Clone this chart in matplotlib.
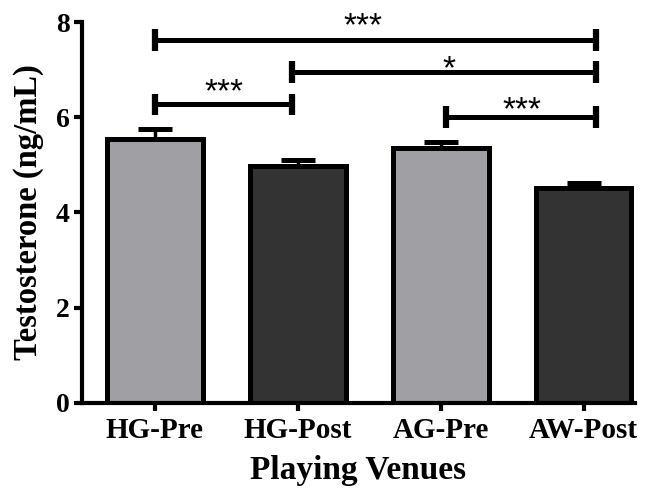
import matplotlib
matplotlib.use("Agg")
import matplotlib.pyplot as plt

categories = ["HG-Pre", "HG-Post", "AG-Pre", "AW-Post"]
means = [5.54, 4.97, 5.35, 4.51]
errors = [0.21, 0.13, 0.13, 0.12]
bar_colors = ["#A09FA4", "#333333", "#A09FA4", "#333333"]
yticks = [0, 2, 4, 6, 8]

# significance brackets
sig_x0 = [0.0, 0.96, 0.0, 2.04]
sig_x1 = [3.09, 3.09, 0.96, 3.09]
sig_y = [7.63, 6.96, 6.27, 6.01]
sig_labels = ["***", "*", "***", "***"]
sig_text_x = [1.458, 2.056, 0.486, 2.57]
sig_text_off = [0.10, -0.13, 0.06, -0.05]

fig = plt.figure(figsize=(6.5, 4.93), dpi=100)
ax = fig.add_axes([0.126, 0.183, 0.851, 0.772])

x = list(range(len(categories)))
ax.bar(x, means, width=0.67, color=bar_colors, edgecolor="black",
       linewidth=3.6, zorder=2)
ax.errorbar(x, means, yerr=[[0]*len(errors), errors], fmt="none",
            ecolor="black", elinewidth=2.5, capsize=12, capthick=3.6, zorder=1)

serif = "Liberation Serif"
ax.set_xlim(-0.51, 3.36)
ax.set_ylim(0, 8)
ax.set_yticks(yticks)
ax.set_yticklabels([str(t) for t in yticks], fontfamily=serif,
                   fontweight="bold", fontsize=20)
ax.set_xticks(x)
ax.set_xticklabels(categories, fontfamily=serif, fontweight="bold", fontsize=21)
ax.set_ylabel("Testosterone (ng/mL)", fontfamily=serif, fontweight="bold",
              fontsize=23.5, labelpad=8)
ax.set_xlabel("Playing Venues", fontfamily=serif, fontweight="bold",
              fontsize=24, labelpad=8)

for s in ["top", "right"]:
    ax.spines[s].set_visible(False)
for s in ["left", "bottom"]:
    ax.spines[s].set_linewidth(3)
ax.tick_params(axis="both", width=3, length=6, direction="out")
ax.tick_params(axis="y", pad=3)
ax.tick_params(axis="x", pad=4)

for x0, x1, y, lab, tx, off in zip(sig_x0, sig_x1, sig_y, sig_labels,
                                   sig_text_x, sig_text_off):
    ax.plot([x0, x1], [y, y], color="black", lw=3.6, solid_capstyle="butt",
            clip_on=False, zorder=3)
    for xe in (x0, x1):
        ax.plot([xe, xe], [y - 0.23, y + 0.23], color="black", lw=4.5,
                solid_capstyle="butt", clip_on=False, zorder=3)
    ax.text(tx, y + off, lab, ha="center", va="baseline",
            fontsize=24, fontfamily="Liberation Sans", clip_on=False, zorder=4)

fig.savefig("out.png", dpi=100)
